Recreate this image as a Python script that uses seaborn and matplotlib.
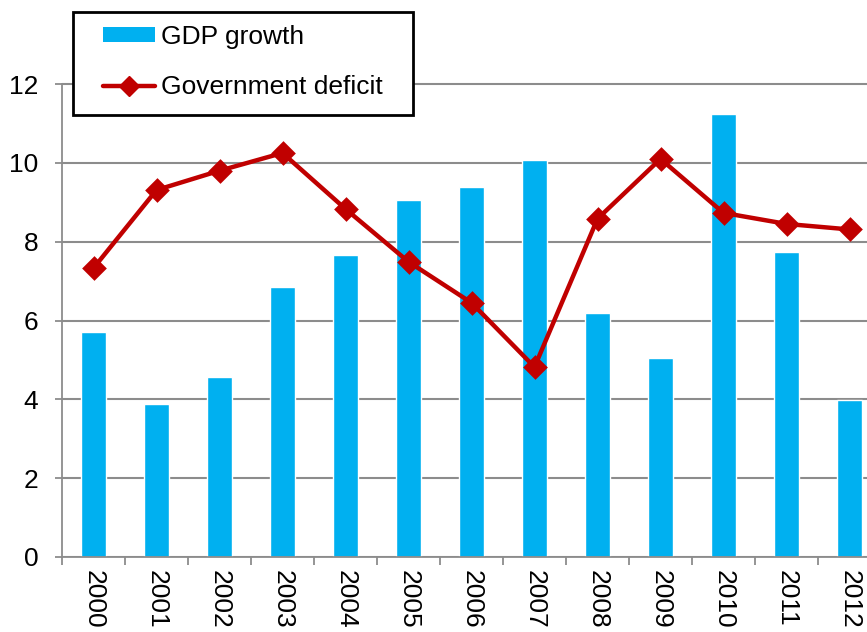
import matplotlib
matplotlib.use("Agg")
import matplotlib.pyplot as plt
import seaborn as sns
import pandas as pd
from matplotlib.patches import Patch, Rectangle
from matplotlib.lines import Line2D

years = ["2000", "2001", "2002", "2003", "2004", "2005", "2006",
         "2007", "2008", "2009", "2010", "2011", "2012"]
gdp_growth = [5.71, 3.88, 4.57, 6.85, 7.66, 9.06, 9.39, 10.07, 6.19, 5.05, 11.23, 7.75, 3.99]
gov_deficit = [7.33, 9.31, 9.80, 10.25, 8.83, 7.49, 6.45, 4.82, 8.58, 10.10, 8.73, 8.45, 8.31]
y_ticks = [0, 2, 4, 6, 8, 10, 12]

df = pd.DataFrame({"year": years, "gdp": gdp_growth, "deficit": gov_deficit})

sns.set_theme(style="white")
plt.rcParams["font.family"] = ["Liberation Sans", "DejaVu Sans"]
plt.rcParams["text.color"] = "black"

BLUE = "#00B0F0"
RED = "#C00000"
GRID = "#8C8C8C"
FS = 19

W, H = 867, 632
fig = plt.figure(figsize=(W / 100, H / 100), dpi=100)
fig.patch.set_facecolor("white")
# axes deliberately extends past right edge (as in reference)
ax = fig.add_axes([62 / W, 75 / H, 819 / W, 492.7 / H])

sns.barplot(data=df, x="year", y="gdp", color=BLUE, width=0.4, saturation=1,
            ax=ax, zorder=2)
sns.pointplot(data=df, x="year", y="deficit", color=RED, markers="D",
              markersize=10, linewidth=3.2, ax=ax, zorder=3)

ax.set_xlim(-0.5, 12.5)
ax.set_ylim(0, 12.5)
ax.set_yticks(y_ticks)
ax.set_yticklabels([str(t) for t in y_ticks], fontsize=FS)
ax.set_xticks(range(len(years)))
ax.set_xticklabels(years, rotation=270, fontsize=FS)
ax.set_xlabel("")
ax.set_ylabel("")

ax.grid(axis="y", color=GRID, linewidth=1.5, zorder=0)
ax.set_axisbelow(True)

for s in ["top", "right"]:
    ax.spines[s].set_visible(False)
ax.spines["left"].set_color(GRID)
ax.spines["left"].set_linewidth(1.3)
ax.spines["left"].set_bounds(0, 12)
ax.spines["bottom"].set_color(GRID)
ax.spines["bottom"].set_linewidth(1.3)

ax.tick_params(axis="y", which="major", left=True, length=5, width=1.3,
               color=GRID, pad=12, labelcolor="black")
ax.tick_params(axis="x", which="major", bottom=False, length=0, pad=9,
               labelcolor="black")
ax.set_xticks([i - 0.5 for i in range(len(years) + 1)], minor=True)
ax.tick_params(axis="x", which="minor", bottom=True, length=6, width=1.3,
               color=GRID)

# legend box (white, black border) drawn over the plot
box = Rectangle((73 / W, 1 - 115 / H), 340 / W, 103 / H, transform=fig.transFigure,
                facecolor="white", edgecolor="black", linewidth=2, zorder=5)
fig.patches.append(box)

handles = [Patch(facecolor=BLUE, edgecolor="none"),
           Line2D([0], [0], color=RED, linewidth=3.2, marker="D", markersize=10)]
leg = fig.legend(handles, ["GDP growth", "Government deficit"],
                 loc="upper left", bbox_to_anchor=(103 / W, 1 - 25 / H),
                 fontsize=FS, frameon=False, labelcolor="black",
                 handlelength=1.98, handleheight=0.52, handletextpad=0.2,
                 labelspacing=1.0, borderpad=0, borderaxespad=0)
leg.set_zorder(10)

fig.savefig("out.png", dpi=100)
